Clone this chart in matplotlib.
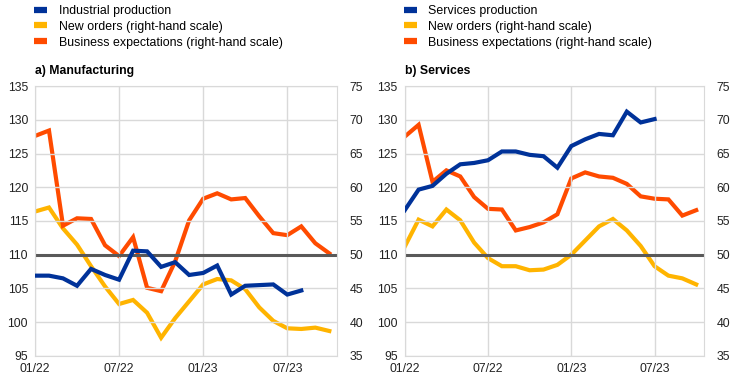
import numpy as np
import matplotlib
matplotlib.use("Agg")
import matplotlib.pyplot as plt
from matplotlib.lines import Line2D

plt.rcParams['font.family'] = ['Liberation Sans', 'DejaVu Sans']
plt.rcParams['font.size'] = 8.7

tick_pos = [0, 6, 12, 18]
tick_labels = ['01/22', '07/22', '01/23', '07/23']

# a) Manufacturing, Jan 2022 onwards (monthly)
ind_prod = [106.9, 106.9, 106.5, 105.4, 107.9, 107.0, 106.3, 110.6, 110.5, 108.2,
            108.9, 107.0, 107.3, 108.4, 104.1, 105.4, 105.5, 105.6, 104.1, 104.7]
man_orders = [56.4, 57.0, 53.9, 51.5, 48.3, 45.3, 42.7, 43.3, 41.4, 37.7, 40.6,
              43.1, 45.6, 46.4, 46.2, 44.9, 42.2, 40.2, 39.1, 39.0, 39.2, 38.7]
man_expect = [67.6, 68.4, 54.3, 55.4, 55.3, 51.4, 49.8, 52.6, 45.1, 44.6, 49.0,
              55.1, 58.3, 59.1, 58.2, 58.4, 55.7, 53.2, 52.9, 54.2, 51.7, 50.2]

# b) Services
serv_prod = [116.6, 119.65, 120.2, 122.0, 123.4, 123.6, 124.0, 125.3, 125.3, 124.8,
             124.6, 122.9, 126.1, 127.1, 127.9, 127.7, 131.2, 129.6, 130.1]
serv_orders = [51.2, 55.2, 54.2, 56.7, 55.1, 51.8, 49.5, 48.3, 48.3, 47.7, 47.8,
               48.5, 50.0, 52.1, 54.2, 55.3, 53.6, 51.3, 48.3, 46.9, 46.5, 45.6]
serv_expect = [67.5, 69.25, 60.8, 62.5, 61.6, 58.55, 56.8, 56.7, 53.6, 54.1, 54.8,
               56.0, 61.3, 62.2, 61.6, 61.4, 60.5, 58.65, 58.3, 58.2, 55.8, 56.6]

blue = '#003299'
yellow = '#FFB400'
orange = '#FF4B00'
grid_c = '#D9D9D9'

fig = plt.figure(figsize=(7.44, 3.84), dpi=100)
ax1 = fig.add_axes([0.047, 0.073, 0.406, 0.703])
ax2 = fig.add_axes([0.544, 0.073, 0.402, 0.703])


def panel(ax, prod, orders, expect, title, prod_label):
    ax.set_ylim(95, 135)
    ax.set_xlim(0, 21.55)
    ax.set_yticks(np.arange(95, 136, 5))
    ax.set_xticks(tick_pos)
    ax.set_xticklabels(tick_labels)
    ax.grid(True, color=grid_c, lw=1)
    ax.set_axisbelow(True)
    for s in ax.spines.values():
        s.set_color(grid_c)
    ax.tick_params(length=0, pad=5, labelsize=8.8, colors='#222222')
    ax.tick_params(axis='x', pad=5)
    ax.axhline(110, color='#595959', lw=2.2, zorder=1)
    ax.plot(np.arange(len(prod)), prod, color=blue, lw=3, zorder=3,
            solid_joinstyle='miter')
    rx = ax.twinx()
    rx.set_ylim(35, 75)
    rx.set_yticks(np.arange(35, 76, 5))
    rx.tick_params(length=0, pad=9, labelsize=8.8, colors='#222222')
    for s in rx.spines.values():
        s.set_visible(False)
    rx.plot(np.arange(len(orders)), orders, color=yellow, lw=3, solid_joinstyle='miter')
    rx.plot(np.arange(len(expect)), expect, color=orange, lw=3, solid_joinstyle='miter')
    ax.set_zorder(rx.get_zorder() + 1)
    ax.patch.set_visible(False)
    ax.text(0, 1.035, title, transform=ax.transAxes, fontweight='bold',
            fontsize=8.8, va='bottom')
    handles = [Line2D([], [], color=c, lw=4.5, solid_capstyle='butt')
               for c in (blue, yellow, orange)]
    labels = [prod_label, 'New orders (right-hand scale)',
              'Business expectations (right-hand scale)']
    ax.legend(handles, labels, loc='upper left', frameon=False,
              bbox_to_anchor=(-0.02, 1.318), handlelength=1.1,
              handletextpad=0.9, labelspacing=0.3, fontsize=8.9,
              borderaxespad=0)


panel(ax1, ind_prod, man_orders, man_expect, 'a) Manufacturing', 'Industrial production')
panel(ax2, serv_prod, serv_orders, serv_expect, 'b) Services', 'Services production')

fig.savefig('out.png', dpi=100)
